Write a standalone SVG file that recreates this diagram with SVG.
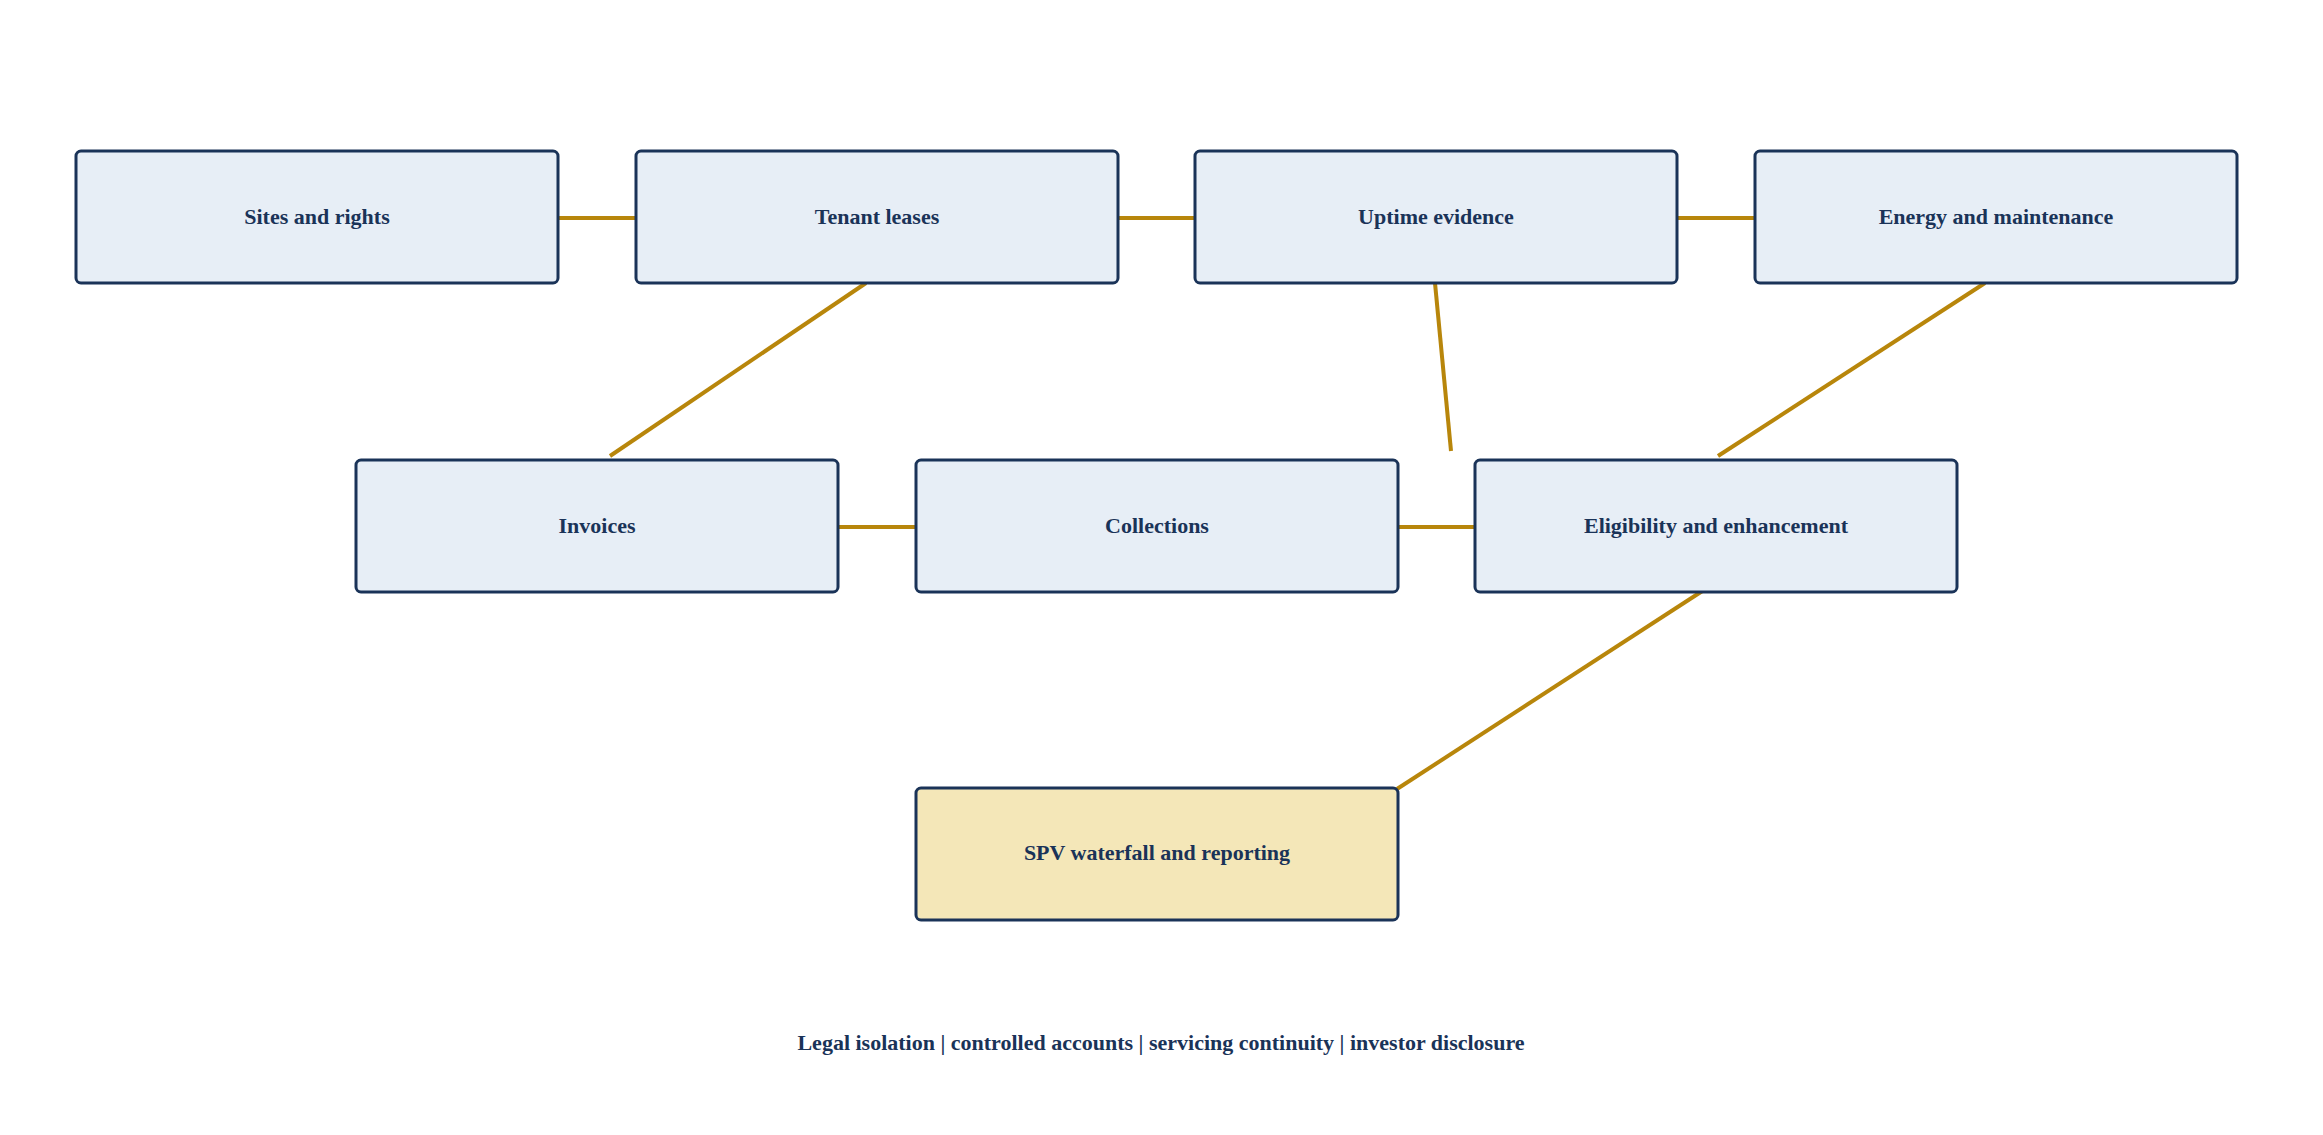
<svg xmlns="http://www.w3.org/2000/svg" width="2323" height="1135" viewBox="0 0 2323 1135">
<style>
.b rect{fill:#e7eef6;stroke:#1a3358;stroke-width:3}
.s rect{fill:#f4e7b8;stroke:#1a3358;stroke-width:3}
text{font-family:"Liberation Serif",serif;font-weight:bold;font-size:22px;fill:#1a3358;text-anchor:middle;dominant-baseline:central}
#edges line{stroke:#b8860b;stroke-width:4}
</style>
<rect width="2323" height="1135" fill="#fff"/>
<g id="edges">
<line x1="557" y1="218" x2="636" y2="218"/>
<line x1="1116" y1="218" x2="1195" y2="218"/>
<line x1="1676" y1="218" x2="1755" y2="218"/>
<line x1="837" y1="527" x2="916" y2="527"/>
<line x1="1396" y1="527" x2="1475" y2="527"/>
<line x1="866" y1="283" x2="610" y2="456"/>
<line x1="1435" y1="283" x2="1451" y2="451"/>
<line x1="1985" y1="283" x2="1718" y2="456"/>
<line x1="1707" y1="588" x2="1397" y2="789"/>
</g>
<g id="sites" class="b"><rect x="76" y="151" width="482" height="132" rx="5"/><text x="317" y="216">Sites and rights</text></g>
<g id="leases" class="b"><rect x="636" y="151" width="482" height="132" rx="5"/><text x="877" y="216">Tenant leases</text></g>
<g id="uptime" class="b"><rect x="1195" y="151" width="482" height="132" rx="5"/><text x="1436" y="216">Uptime evidence</text></g>
<g id="energy" class="b"><rect x="1755" y="151" width="482" height="132" rx="5"/><text x="1996" y="216">Energy and maintenance</text></g>
<g id="invoices" class="b"><rect x="356" y="460" width="482" height="132" rx="5"/><text x="597" y="525">Invoices</text></g>
<g id="collections" class="b"><rect x="916" y="460" width="482" height="132" rx="5"/><text x="1157" y="525">Collections</text></g>
<g id="eligibility" class="b"><rect x="1475" y="460" width="482" height="132" rx="5"/><text x="1716" y="525">Eligibility and enhancement</text></g>
<g id="spv" class="s"><rect x="916" y="788" width="482" height="132" rx="5"/><text x="1157" y="852">SPV waterfall and reporting</text></g>
<text x="1161" y="1042">Legal isolation | controlled accounts | servicing continuity | investor disclosure</text>
</svg>
